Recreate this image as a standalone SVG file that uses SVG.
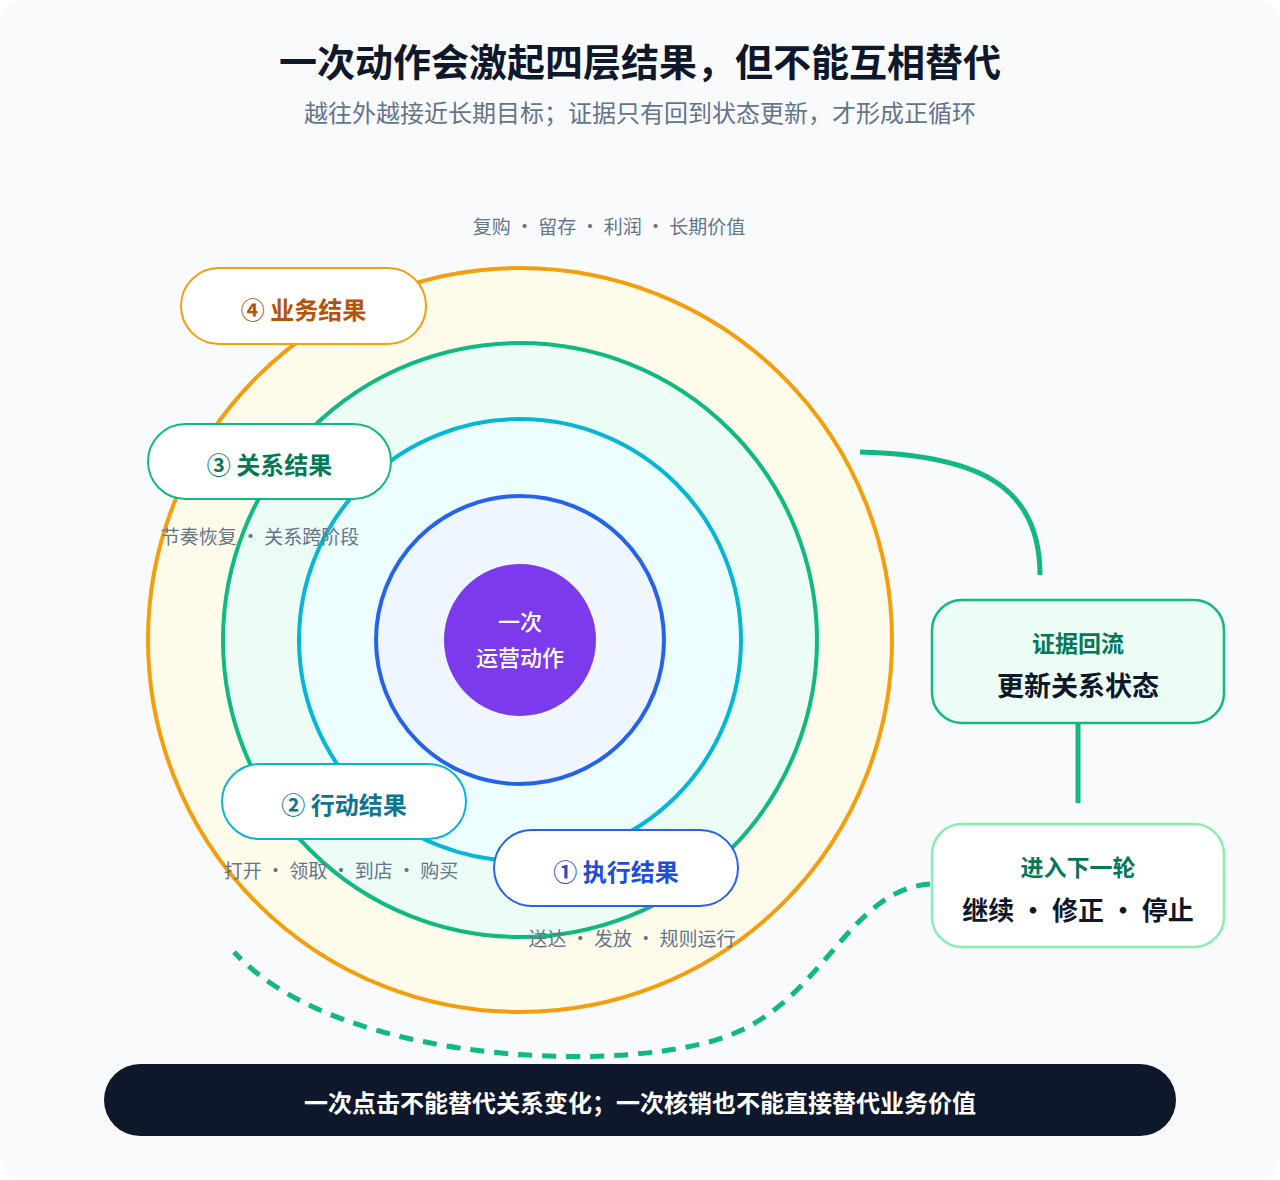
<svg xmlns="http://www.w3.org/2000/svg" width="1280" height="1180" viewBox="0 0 1280 1180">
<style>
text{font-family:"Noto Sans CJK SC","Noto Sans",sans-serif;text-anchor:middle}
.title{font-size:38px;font-weight:700;fill:#0f172a}
.sub{font-size:24px;fill:#64748b}
.note{font-size:19px;fill:#64748b}
.pill{fill:#fff;stroke-width:2}
.plbl{font-size:24px;font-weight:700}
.ring{stroke-width:4}
</style>
<rect x="0" y="0" width="1280" height="1180" fill="#ffffff"/>
<rect x="0" y="0" width="1280" height="1180" rx="24" fill="#f8fafc"/>
<text class="title" x="640" y="76">一次动作会激起四层结果，但不能互相替代</text>
<text class="sub" x="640" y="122">越往外越接近长期目标；证据只有回到状态更新，才形成正循环</text>

<g id="connectors" fill="none">
<path d="M860 452 C 985 455, 1040 490, 1040 575" stroke="#10b981" stroke-width="5"/>
<path d="M1078 724 L1078 803" stroke="#10b981" stroke-width="5"/>
<path d="M930 884 C 850 890, 825 995, 735 1033 C 640 1075, 340 1068, 234 952" stroke="#10b981" stroke-width="5" stroke-dasharray="14 10"/>
</g>

<g id="ring-business"><circle class="ring" cx="520" cy="640" r="372" fill="#fefbea" stroke="#f59e0b"/></g>
<g id="ring-relation"><circle class="ring" cx="520" cy="640" r="297" fill="#ecfdf5" stroke="#10b981"/></g>
<g id="ring-action"><circle class="ring" cx="520" cy="640" r="221" fill="#ecfeff" stroke="#06b6d4"/></g>
<g id="ring-exec"><circle class="ring" cx="520" cy="640" r="144" fill="#eff6ff" stroke="#2563eb"/></g>
<g id="center">
<circle cx="520" cy="640" r="76" fill="#7c3aed"/>
<text x="520" y="630" font-size="22" font-weight="500" fill="#fff">一次</text>
<text x="520" y="666" font-size="22" font-weight="500" fill="#fff">运营动作</text>
</g>

<text class="note" x="609" y="234">复购 · 留存 · 利润 · 长期价值</text>
<text class="note" x="260" y="544">节奏恢复 · 关系跨阶段</text>
<text class="note" x="341" y="878">打开 · 领取 · 到店 · 购买</text>
<text class="note" x="632" y="946">送达 · 发放 · 规则运行</text>

<g id="label-4">
<rect class="pill" x="181" y="268" width="245" height="76" rx="38" stroke="#f59e0b"/>
<text class="plbl" x="303.5" y="318.5" fill="#b45309">④ 业务结果</text>
</g>
<g id="label-3">
<rect class="pill" x="148" y="424" width="243" height="75" rx="37.5" stroke="#10b981"/>
<text class="plbl" x="269.5" y="474" fill="#047857">③ 关系结果</text>
</g>
<g id="label-2">
<rect class="pill" x="222" y="764" width="244" height="75" rx="37.5" stroke="#06b6d4"/>
<text class="plbl" x="344" y="814" fill="#0e7490">② 行动结果</text>
</g>
<g id="label-1">
<rect class="pill" x="494" y="830" width="244" height="76" rx="38" stroke="#2563eb"/>
<text class="plbl" x="616" y="880.5" fill="#1d4ed8">① 执行结果</text>
</g>

<g id="evidence">
<rect x="932" y="600" width="292" height="123" rx="30" fill="#ecfdf5" stroke="#10b981" stroke-width="2.5"/>
<text x="1078" y="652" font-size="23" font-weight="700" fill="#047857">证据回流</text>
<text x="1078" y="696" font-size="27" font-weight="700" fill="#0f172a">更新关系状态</text>
</g>
<g id="next-round">
<rect x="932" y="824" width="292" height="123" rx="30" fill="#ffffff" stroke="#86efac" stroke-width="2.5"/>
<text x="1078" y="876" font-size="23" font-weight="700" fill="#047857">进入下一轮</text>
<text x="1078" y="920" font-size="26" font-weight="700" fill="#0f172a">继续 · 修正 · 停止</text>
</g>

<g id="footer">
<rect x="104" y="1064" width="1072" height="72" rx="36" fill="#0f172a"/>
<text x="640" y="1112" font-size="24" font-weight="700" fill="#ffffff">一次点击不能替代关系变化；一次核销也不能直接替代业务价值</text>
</g>
</svg>
